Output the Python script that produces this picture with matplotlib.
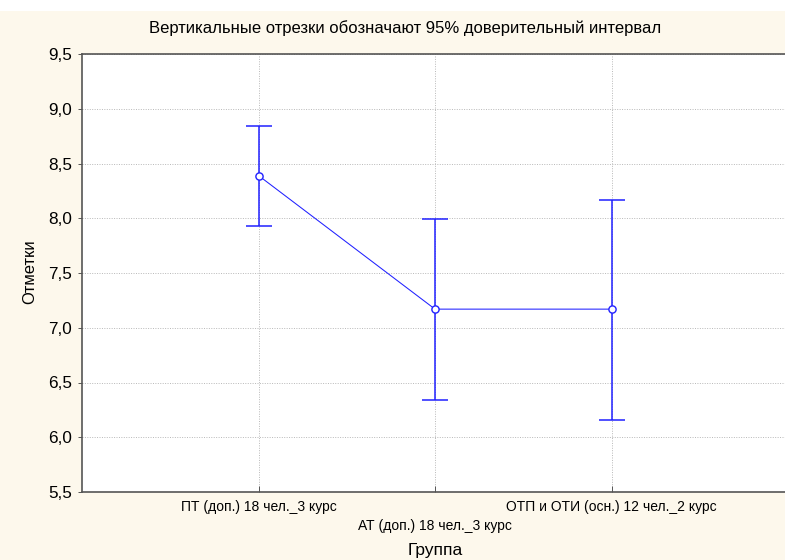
import numpy as np
import matplotlib
matplotlib.use('Agg')
import matplotlib.pyplot as plt
from matplotlib.ticker import FuncFormatter

plt.rcParams['font.family'] = ['Liberation Sans', 'DejaVu Sans']

# data
groups = ['ПТ (доп.) 18 чел._3 курс', 'АТ (доп.) 18 чел._3 курс', 'ОТП и ОТИ (осн.) 12 чел._2 курс']
means = [8.39, 7.17, 7.17]
upper = [8.84, 7.99, 8.17]
lower = [7.93, 6.34, 6.16]
yticks = [5.5, 6.0, 6.5, 7.0, 7.5, 8.0, 8.5, 9.0, 9.5]

x = np.arange(1, len(groups) + 1)
means = np.array(means)
err = [means - np.array(lower), np.array(upper) - means]

fig = plt.figure(figsize=(7.85, 5.6), dpi=100, facecolor='#fdf8ec')
# white strip on top
fig.patches.append(plt.Rectangle((0, 1 - 11 / 560), 1, 11 / 560, transform=fig.transFigure,
                                 facecolor='white', edgecolor='none', zorder=-1))

ax = fig.add_axes([82 / 785, 1 - 492 / 560, 706 / 785, 438 / 560])
ax.set_facecolor('white')

ax.errorbar(x, means, yerr=err, fmt='none', ecolor='#2020ff', elinewidth=1.1,
            capsize=9.5, capthick=1.1, zorder=3)
ax.plot(x, means, color='#2020ff', lw=0.75, marker='o', markersize=5.2,
        markerfacecolor='white', markeredgecolor='#2020ff', markeredgewidth=1.0, zorder=4)

ax.set_xlim(0, 4)
ax.set_ylim(5.5, 9.5)
ax.set_yticks(yticks)
ax.yaxis.set_major_formatter(FuncFormatter(lambda v, p: f'{v:.1f}'.replace('.', ',')))
ax.set_xticks(x)
labels = [g if i % 2 == 0 else '\n' + g for i, g in enumerate(groups)]
ax.set_xticklabels(labels, fontsize=10, linespacing=1.4)

ax.grid(True, color='#b8b8b8', linestyle=(0, (1, 1.5)), linewidth=0.7)
ax.set_axisbelow(True)
ax.tick_params(axis='y', labelsize=12.3, direction='out', length=3, width=0.7, color='#555555', pad=4)
ax.tick_params(axis='x', direction='in', length=4, width=0.7, color='#555555', pad=6)

for s in ax.spines.values():
    s.set_color('#555555')
    s.set_linewidth(1.2)

fig.text(30 / 785, 1 - 272 / 560, 'Отметки', rotation=90, ha='center', va='center', fontsize=12)
fig.text(435 / 785, 1 - 550 / 560, 'Группа', ha='center', va='center', fontsize=12.5)

fig.text(405 / 785, 1 - 28 / 560, 'Вертикальные отрезки обозначают 95% доверительный интервал',
         ha='center', va='center', fontsize=12)

fig.savefig('out.png', dpi=100, facecolor=fig.get_facecolor())
